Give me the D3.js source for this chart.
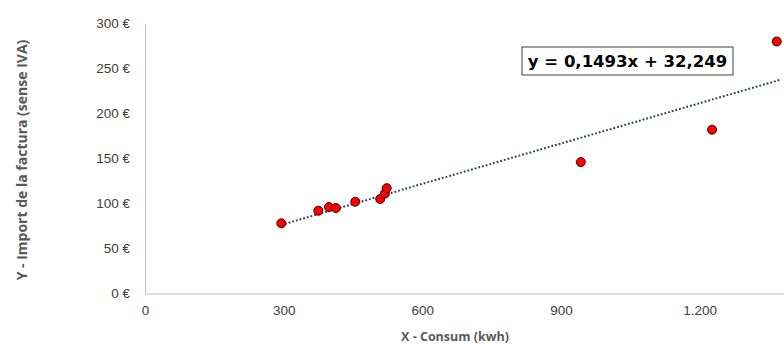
<!DOCTYPE html>
<html lang="en">
<head>
    <meta charset="UTF-8">
    <title>Consum vs Import</title>
    <script src="https://cdnjs.cloudflare.com/ajax/libs/d3/7.8.5/d3.min.js"></script>
    <style>
        body { margin: 0; background: #fff; }
    </style>
</head>
<body>
    <div id="wrapper"></div>
    <script>
        // consum (kwh) i import (€) de cada factura
        const consum = [295, 375, 398, 413, 455, 509, 519, 523, 943, 1227, 1367]
        const importFactura = [78, 92, 96, 95, 102, 105, 111, 117, 146, 182, 280]
        const xTicks = [0, 300, 600, 900, 1200]
        const yTicks = [0, 50, 100, 150, 200, 250, 300]
        const slope = 0.1493
        const intercept = 32.249

        const dataset = consum.map((c, i) => ({ x: c, y: importFactura[i] }))

        const dimensions = {
            width: 784,
            height: 349,
            margin: { top: 23.5, right: -8, bottom: 55.5, left: 145 }
        }
        dimensions.boundedWidth = dimensions.width - dimensions.margin.left - dimensions.margin.right
        dimensions.boundedHeight = dimensions.height - dimensions.margin.top - dimensions.margin.bottom

        const svg = d3.select('#wrapper')
            .append('svg')
                .attr('width', dimensions.width)
                .attr('height', dimensions.height)
                .style('font-family', 'Open Sans, sans-serif')

        const bounds = svg.append('g')
            .attr('transform', `translate(${dimensions.margin.left},${dimensions.margin.top})`)

        const xScale = d3.scaleLinear()
            .domain([0, 1400])
            .range([0, dimensions.boundedWidth])

        const yScale = d3.scaleLinear()
            .domain([0, 300])
            .range([dimensions.boundedHeight, 0])

        const fmtX = d => d3.format(',')(d).replace(/,/g, '.')

        // eixos
        const xAxis = bounds.append('g')
            .attr('transform', `translate(0,${dimensions.boundedHeight})`)
            .call(d3.axisBottom(xScale).tickValues(xTicks).tickSize(0).tickPadding(12).tickFormat(fmtX))
        xAxis.select('.domain').attr('stroke', '#bfbfbf')

        const yAxis = bounds.append('g')
            .call(d3.axisLeft(yScale).tickValues(yTicks).tickSize(0).tickPadding(15).tickFormat(d => d + ' €'))
        yAxis.select('.domain').attr('stroke', '#bfbfbf')

        svg.selectAll('.tick text')
            .attr('fill', '#404040')
            .style('font-size', '13.5px')

        // línia de tendència
        const xExt = d3.extent(consum)
        bounds.append('line')
            .attr('x1', xScale(xExt[0]))
            .attr('y1', yScale(slope * xExt[0] + intercept))
            .attr('x2', xScale(xExt[1] + 10))
            .attr('y2', yScale(slope * (xExt[1] + 10) + intercept))
            .attr('stroke', '#2f3b52')
            .attr('stroke-width', 2)
            .attr('stroke-dasharray', '1.8 2')

        // punts
        bounds.selectAll('circle')
            .data(dataset)
            .join('circle')
                .attr('cx', d => xScale(d.x))
                .attr('cy', d => yScale(d.y))
                .attr('r', 4.5)
                .attr('fill', '#ff0000')
                .attr('stroke', '#3a0000')
                .attr('stroke-width', 1)

        // equació
        const eq = svg.append('g').attr('transform', 'translate(627.5,61)')
        eq.append('rect')
            .attr('x', -105.5).attr('y', -14)
            .attr('width', 211).attr('height', 28)
            .attr('fill', '#fff')
            .attr('stroke', '#404040')
            .attr('stroke-width', 1)
        eq.append('text')
            .attr('text-anchor', 'middle')
            .attr('dy', '0.36em')
            .attr('fill', '#000')
            .style('font-family', 'DejaVu Sans, sans-serif')
            .style('font-size', '16.5px')
            .style('font-weight', 'bold')
            .text(`y = ${String(slope).replace('.', ',')}x + ${String(intercept).replace('.', ',')}`)

        // títols dels eixos
        svg.append('text')
            .attr('x', 455)
            .attr('y', 341)
            .attr('text-anchor', 'middle')
            .attr('fill', '#595959')
            .style('font-size', '12.5px')
            .style('font-weight', 'bold')
            .text('X - Consum (kwh)')

        svg.append('text')
            .attr('transform', 'translate(27,160) rotate(-90)')
            .attr('text-anchor', 'middle')
            .attr('fill', '#595959')
            .style('font-size', '14px')
            .style('font-weight', 'bold')
            .text('Y - Import de la factura (sense IVA)')
    </script>
</body>
</html>
